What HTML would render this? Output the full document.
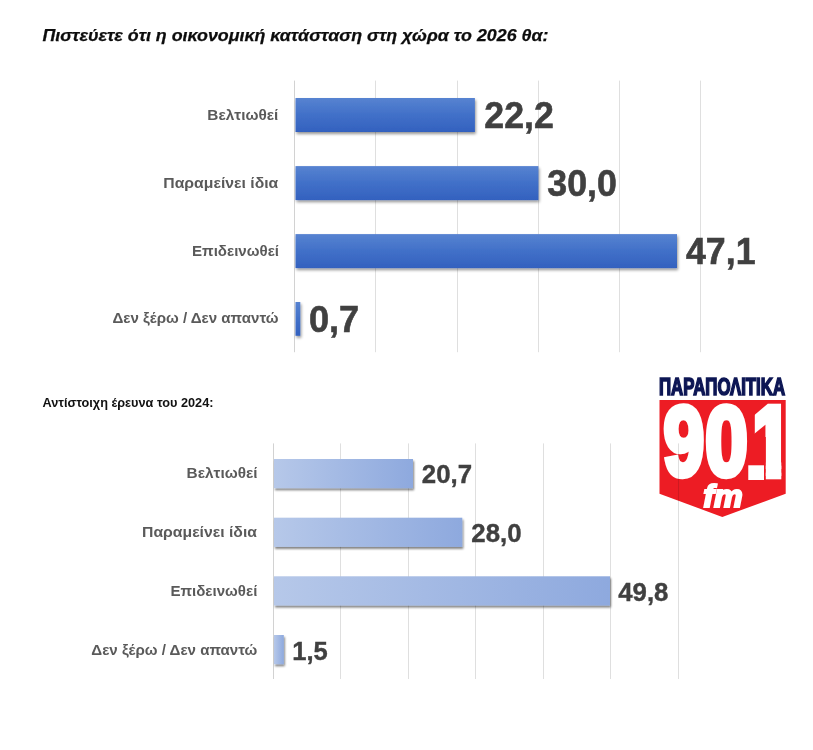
<!DOCTYPE html>
<html lang="el">
<head>
<meta charset="utf-8">
<title>Πιστεύετε ότι η οικονομική κατάσταση στη χώρα το 2026 θα</title>
<style>
  html, body { margin: 0; padding: 0; background: #ffffff; }
  body { width: 813px; height: 750px; overflow: hidden; position: relative; }
  svg { position: absolute; left: 0; top: 0; display: block; }
  text { font-family: "Liberation Sans", "DejaVu Sans", sans-serif; }
  .title { font-size: 16.7px; font-weight: bold; font-style: italic; fill: #0d0d0d; stroke: #0d0d0d; stroke-width: 0.25px; }
  .sub { font-size: 12.9px; font-weight: bold; fill: #111111; }
  .cat1 { font-size: 14.4px; font-weight: bold; fill: #5a5a5a; }
  .cat2 { font-size: 14.4px; font-weight: bold; fill: #5a5a5a; }
  .val1 { font-size: 36.3px; font-weight: bold; fill: #404040; stroke: #404040; stroke-width: 0.6px; }
  .val2 { font-size: 26.5px; font-weight: bold; fill: #404040; stroke: #404040; stroke-width: 0.4px; }

</style>
</head>
<body>
<svg width="813" height="750" viewBox="0 0 813 750">
  <defs>
    <linearGradient id="g1" x1="0" y1="0" x2="0" y2="1">
      <stop offset="0" stop-color="#5783d1"/>
      <stop offset="0.5" stop-color="#4170c8"/>
      <stop offset="1" stop-color="#3361bf"/>
    </linearGradient>
    <linearGradient id="g2" x1="0" y1="0" x2="1" y2="0">
      <stop offset="0" stop-color="#b6c8e9"/>
      <stop offset="1" stop-color="#8ea9de"/>
    </linearGradient>
    <filter id="sh1" x="-5%" y="-20%" width="110%" height="150%">
      <feGaussianBlur in="SourceAlpha" stdDeviation="1.7"/>
      <feOffset dx="0.6" dy="2.2"/>
      <feComponentTransfer><feFuncA type="linear" slope="0.42"/></feComponentTransfer>
      <feMerge><feMergeNode/><feMergeNode in="SourceGraphic"/></feMerge>
    </filter>
    <filter id="sh2" x="-5%" y="-20%" width="110%" height="150%">
      <feGaussianBlur in="SourceAlpha" stdDeviation="1"/>
      <feOffset dx="0.8" dy="1.8"/>
      <feComponentTransfer><feFuncA type="linear" slope="0.5"/></feComponentTransfer>
      <feMerge><feMergeNode/><feMergeNode in="SourceGraphic"/></feMerge>
    </filter>
    <clipPath id="one"><polygon points="754.8,400 781.3,400 781.3,481 765.8,481 765.8,437 754.8,437"/></clipPath>
  </defs>

  <!-- title -->
  <text class="title" x="42.5" y="40.7" textLength="506" lengthAdjust="spacingAndGlyphs">Πιστεύετε ότι η οικονομική κατάσταση στη χώρα το 2026 θα:</text>

  <!-- chart 1 grid -->
  <g fill="#dfdfdf">
    <rect x="294" y="80.6" width="1" height="271.6" fill="#d2d2d2"/>
    <rect x="375" y="80.6" width="1" height="271.6"/>
    <rect x="457" y="80.6" width="1" height="271.6"/>
    <rect x="538" y="80.6" width="1" height="271.6"/>
    <rect x="619" y="80.6" width="1" height="271.6"/>
    <rect x="700" y="80.6" width="1" height="271.6"/>
  </g>
  <!-- chart 1 bars -->
  <g filter="url(#sh1)">
    <rect x="295.5" y="98" width="179.4" height="34" fill="url(#g1)"/>
    <rect x="295.5" y="166.1" width="242.9" height="34" fill="url(#g1)"/>
    <rect x="295.5" y="234.1" width="381.5" height="34" fill="url(#g1)"/>
    <rect x="295.5" y="302" width="4.8" height="33.8" fill="url(#g1)"/>
  </g>
  <!-- chart 1 category labels -->
  <text class="cat1" x="207.3" y="119.5" textLength="71" lengthAdjust="spacingAndGlyphs">Βελτιωθεί</text>
  <text class="cat1" x="163.3" y="187.5" textLength="115" lengthAdjust="spacingAndGlyphs">Παραμείνει ίδια</text>
  <text class="cat1" x="192" y="255.5" textLength="87" lengthAdjust="spacingAndGlyphs">Επιδεινωθεί</text>
  <text class="cat1" x="112.5" y="323.3" textLength="166" lengthAdjust="spacingAndGlyphs">Δεν ξέρω / Δεν απαντώ</text>
  <!-- chart 1 values -->
  <text class="val1" x="484.3" y="128.1" textLength="69.5" lengthAdjust="spacingAndGlyphs">22,2</text>
  <text class="val1" x="547.3" y="196" textLength="69.5" lengthAdjust="spacingAndGlyphs">30,0</text>
  <text class="val1" x="686" y="263.9" textLength="69.5" lengthAdjust="spacingAndGlyphs">47,1</text>
  <text class="val1" x="309" y="331.8" textLength="50.2" lengthAdjust="spacingAndGlyphs">0,7</text>

  <!-- subtitle -->
  <text class="sub" x="42.5" y="406.8" textLength="171" lengthAdjust="spacingAndGlyphs">Αντίστοιχη έρευνα του 2024:</text>

  <!-- logo -->
  <g id="logo">
    <polygon points="659.5,400 785.7,400 785.7,493.7 722.3,517 659.5,493.7" fill="#ed1c24"/>
    <text x="659" y="395.1" font-size="24" font-weight="bold" fill="#0d1654" stroke="#0d1654" stroke-width="1.7" textLength="126" lengthAdjust="spacingAndGlyphs">ΠΑΡΑΠΟΛΙΤΙΚΑ</text>
    <g font-size="100" font-weight="bold" fill="#ffffff" stroke="#ffffff" stroke-width="6.5" stroke-linejoin="miter">
      <text transform="translate(663.44,475.35) scale(0.732,0.982)">9</text>
      <text transform="translate(705.36,475.35) scale(0.764,0.982)">0</text>
      <text transform="translate(740.74,479.7) scale(1.113,0.987)" stroke-width="0">.</text>
      <g clip-path="url(#one)"><text transform="translate(750.1,476.25) scale(0.7715,1.0013)">1</text></g>
    </g>
    <text transform="translate(703.2,506.9) scale(1.04,1.02)" font-size="31" font-weight="bold" font-style="italic" fill="#ffffff" stroke="#ffffff" stroke-width="2">fm</text>
  </g>

  <!-- chart 2 grid -->
  <g fill="#dfdfdf">
    <rect x="273" y="443.4" width="1" height="235.6" fill="#d2d2d2"/>
    <rect x="340" y="443.4" width="1" height="235.6"/>
    <rect x="408" y="443.4" width="1" height="235.6"/>
    <rect x="475" y="443.4" width="1" height="235.6"/>
    <rect x="543" y="443.4" width="1" height="235.6"/>
    <rect x="610" y="443.4" width="1" height="235.6"/>
    <rect x="678" y="443.4" width="1" height="235.6" style="mix-blend-mode:multiply"/>
  </g>
  <!-- chart 2 bars -->
  <g filter="url(#sh2)">
    <rect x="274" y="459" width="139" height="29.2" fill="url(#g2)"/>
    <rect x="274" y="517.7" width="188.3" height="29.2" fill="url(#g2)"/>
    <rect x="274" y="576.3" width="336" height="29.2" fill="url(#g2)"/>
    <rect x="274" y="635" width="9.8" height="29.2" fill="url(#g2)"/>
  </g>
  <!-- chart 2 category labels -->
  <text class="cat2" x="186.6" y="478.3" textLength="71" lengthAdjust="spacingAndGlyphs">Βελτιωθεί</text>
  <text class="cat2" x="142" y="537.2" textLength="115" lengthAdjust="spacingAndGlyphs">Παραμείνει ίδια</text>
  <text class="cat2" x="170.4" y="595.8" textLength="87" lengthAdjust="spacingAndGlyphs">Επιδεινωθεί</text>
  <text class="cat2" x="91.3" y="654.8" textLength="166" lengthAdjust="spacingAndGlyphs">Δεν ξέρω / Δεν απαντώ</text>
  <!-- chart 2 values -->
  <text class="val2" x="421.8" y="483.2" textLength="50.2" lengthAdjust="spacingAndGlyphs">20,7</text>
  <text class="val2" x="471.3" y="541.9" textLength="50.2" lengthAdjust="spacingAndGlyphs">28,0</text>
  <text class="val2" x="618.2" y="600.5" textLength="50.2" lengthAdjust="spacingAndGlyphs">49,8</text>
  <text class="val2" x="292.3" y="659.8" textLength="35.5" lengthAdjust="spacingAndGlyphs">1,5</text>
</svg>
</body>
</html>
